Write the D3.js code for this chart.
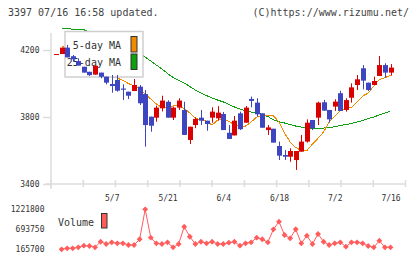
<!DOCTYPE html>
<html>
<head>
<meta charset="utf-8">
<script src="https://cdn.jsdelivr.net/npm/d3@7"></script>
<style>
  body { margin: 0; background: #fff; }
  svg { display: block; }
  text { font-family: "DejaVu Sans Mono", monospace; fill: #333; }
</style>
</head>
<body>
<svg id="chart"></svg>
<script>
// daily prices, index 0 = oldest (4/21) .. 60 = 7/16
const openP  = [4176,4176,4214,4163,4134,4100,4070,4053,4065,4041,3997,4021,3970,3951,3955,3981,3937,3802,3796,3852,
                3891,3796,3856,3842,3663,3752,3796,3778,3796,3792,3818,3706,3690,3822,3766,3908,3886,3822,3722,3730,
                3627,3573,3563,3543,3593,3653,3782,3796,3888,3842,3862,3942,3842,3915,3991,4091,4005,3991,4045,4110,4065];
const highP  = [4176,4214,4230,4170,4150,4100,4070,4106,4065,4041,4051,4051,3995,3951,4027,3991,3961,3802,3868,3927,
                3900,3862,3912,3891,3742,3798,3842,3778,3858,3865,3830,3752,3806,3832,3866,3922,3912,3822,3752,3730,
                3653,3603,3613,3597,3693,3786,3782,3891,3902,3842,3906,3957,3912,4001,4051,4110,4005,4041,4164,4121,4116];
const lowP   = [4176,4176,4156,4130,4107,4065,4045,4053,4031,3995,3945,3951,3901,3907,3955,3872,3623,3712,3772,3833,
                3796,3782,3842,3693,3639,3733,3752,3718,3766,3778,3722,3669,3690,3722,3766,3858,3802,3736,3693,3647,
                3543,3543,3533,3484,3593,3647,3722,3752,3838,3766,3836,3836,3832,3886,3961,3965,3955,3991,4045,4035,4047];
const closeP = [4176,4214,4156,4145,4107,4065,4050,4106,4040,4005,3985,3957,3963,3927,3991,3882,3752,3748,3856,3898,
                3796,3856,3898,3693,3742,3788,3778,3758,3832,3826,3722,3669,3778,3727,3856,3896,3816,3736,3738,3647,
                3569,3563,3597,3597,3653,3766,3733,3886,3838,3786,3892,3836,3901,3977,4025,4017,3961,4015,4110,4065,4095];

// moving averages as drawn
const ma5  = [null,4227,4200,4180,4160,4137,4105,4095,4074,4053,4040,4033,4018,4000,3985,3967,3937,3907,3878,3857,
              3854,3866,3866,3851,3824,3794,3782,3776,3752,3782,3790,3775,3752,3742,3746,3770,3800,3808,3809,3808,
              3770,3704,3651,3618,3599,3599,3639,3673,3711,3770,3803,3836,3851,3857,3890,3925,3943,3985,4024,4035,4048];
const ma25 = [null,4328,4326,4325,4323,4321,4305,4295,4285,4272,4260,4245,4232,4218,4205,4180,4158,4134,4110,4087,
              4060,4036,4018,4003,3982,3961,3943,3928,3913,3901,3890,3875,3860,3848,3836,3830,3827,3815,3803,3783,
              3772,3764,3755,3746,3740,3734,3732,3732,3734,3737,3742,3749,3755,3761,3770,3778,3791,3800,3812,3824,3836];

const volume = [null,165700,192000,192000,218000,261000,253000,218000,366000,306000,350000,324000,324000,279000,279000,430000,
                1221800,472000,324000,306000,350000,218000,306000,762000,498000,306000,366000,324000,366000,306000,306000,
                340000,366000,261000,324000,350000,472000,430000,350000,693750,895000,543000,456000,694000,324000,525000,
                306000,570000,366000,279000,324000,350000,235000,350000,350000,324000,253000,218000,393000,218000,218000];

const tickIdx    = [10, 20, 30, 40, 50, 60];
const tickLabels = ['5/7', '5/21', '6/4', '6/18', '7/2', '7/16'];
const priceTicks = [3400, 3800, 4200];
const volTicks   = [165700, 693750, 1221800];

const W = 420, H = 259;
const axisColor = '#dcdcdc';
const upColor = '#d90000', downColor = '#3d46c0';
const ma5Color = '#f28a00', ma25Color = '#0fa00f', volColor = '#ff5c5c';

const svg = d3.select('#chart').attr('width', W).attr('height', H);

const x = d3.scaleLinear().domain([0, 60]).range([56, 390.5]);
const y = d3.scaleLinear().domain([3400, 4200]).range([184, 50]);
const yv = d3.scaleLinear().domain([165700, 1221800]).range([249.3, 209.3]);
const plotLeft = 51, plotRight = 405.5, plotBottom = 184;

// header
svg.append('text').attr('x', 8).attr('y', 16).style('font-size', '10px').style('fill', '#444')
  .text('3397 07/16 16:58 updated.');
svg.append('text').attr('x', 409).attr('y', 16).attr('text-anchor', 'end').style('font-size', '10px').style('fill', '#444')
  .text('(C)https://www.rizumu.net/');

// frame lines
svg.append('line').attr('x1', plotLeft).attr('x2', plotLeft).attr('y1', 33).attr('y2', 189)
  .attr('stroke', axisColor).attr('stroke-width', 1.5);
svg.append('line').attr('x1', 45.5).attr('x2', plotRight).attr('y1', plotBottom).attr('y2', plotBottom)
  .attr('stroke', axisColor).attr('stroke-width', 1.5);

// evenly spaced division marks on the date axis
const div = d3.scaleLinear().domain([0, 11]).range([plotLeft, plotRight]);
svg.append('g').selectAll('line').data(d3.range(12)).join('line')
  .attr('x1', d => div(d)).attr('x2', d => div(d))
  .attr('y1', 180).attr('y2', 187)
  .attr('stroke', axisColor).attr('stroke-width', 1.5);

// price axis
const yAxisG = svg.append('g').attr('transform', `translate(${plotLeft},0)`)
  .call(d3.axisLeft(y).tickValues(priceTicks).tickFormat(d3.format('d')).tickSize(8).tickPadding(3.5));
yAxisG.select('.domain').remove();
yAxisG.selectAll('line').attr('stroke', axisColor).attr('stroke-width', 1.5);
yAxisG.selectAll('text').style('font-size', '8px').style('font-family', '"DejaVu Sans Mono", monospace').attr('fill', '#333');

// date labels
const xAxisG = svg.append('g').attr('transform', `translate(0,${plotBottom})`)
  .call(d3.axisBottom(x).tickValues(tickIdx).tickFormat((d, i) => tickLabels[i]).tickSize(0).tickPadding(11));
xAxisG.select('.domain').remove();
xAxisG.selectAll('text').style('font-size', '8px').style('font-family', '"DejaVu Sans Mono", monospace').attr('fill', '#333');

// moving averages
const idx = d3.range(openP.length);
const maLine = arr => d3.line().defined(i => arr[i] != null).x(i => x(i)).y(i => y(arr[i]))(idx);
svg.append('path').attr('d', maLine(ma25)).attr('fill', 'none').attr('stroke', ma25Color)
  .attr('stroke-width', 1).attr('shape-rendering', 'crispEdges');
svg.append('path').attr('d', maLine(ma5)).attr('fill', 'none').attr('stroke', ma5Color)
  .attr('stroke-width', 1).attr('shape-rendering', 'crispEdges');

// legend box
const lg = svg.append('g');
lg.append('rect').attr('x', 65).attr('y', 31.5).attr('width', 78).attr('height', 45.5)
  .attr('fill', '#fff').attr('stroke', '#cfcfcf').attr('stroke-width', 1.5);
lg.append('text').attr('x', 121).attr('y', 49).attr('text-anchor', 'end').style('font-size', '10px').text('5-day MA');
lg.append('text').attr('x', 121).attr('y', 66).attr('text-anchor', 'end').style('font-size', '10px').text('25-day MA');
lg.append('rect').attr('x', 131).attr('y', 36.5).attr('width', 6).attr('height', 15.5)
  .attr('fill', ma5Color).attr('stroke', '#333').attr('stroke-width', 1);
lg.append('rect').attr('x', 131).attr('y', 54).attr('width', 6).attr('height', 15.5)
  .attr('fill', ma25Color).attr('stroke', '#333').attr('stroke-width', 1);

// candles
const candles = svg.append('g').selectAll('g').data(idx).join('g')
  .attr('fill', i => closeP[i] >= openP[i] ? upColor : downColor)
  .attr('stroke', i => closeP[i] >= openP[i] ? upColor : downColor);
candles.append('line')
  .attr('x1', i => Math.round(x(i)) + 0.5).attr('x2', i => Math.round(x(i)) + 0.5)
  .attr('y1', i => y(highP[i])).attr('y2', i => y(lowP[i]))
  .attr('stroke-width', 1);
candles.append('rect')
  .attr('x', i => Math.round(x(i)) - 2)
  .attr('width', 5)
  .attr('y', i => y(Math.max(openP[i], closeP[i])))
  .attr('height', i => Math.max(1, Math.abs(y(openP[i]) - y(closeP[i]))))
  .attr('stroke', 'none');

// volume
const vIdx = idx.filter(i => volume[i] != null);
svg.append('path')
  .attr('d', d3.line().x(i => x(i)).y(i => yv(volume[i]))(vIdx))
  .attr('fill', 'none').attr('stroke', volColor).attr('stroke-width', 1);
svg.append('g').selectAll('path').data(vIdx).join('path')
  .attr('d', d3.symbol(d3.symbolSquare, 17))
  .attr('transform', i => `translate(${x(i)},${yv(volume[i])}) rotate(45)`)
  .attr('fill', volColor);

svg.append('g').selectAll('text').data(volTicks).join('text')
  .attr('x', 44.5).attr('y', d => yv(d)).attr('dy', '0.35em')
  .attr('text-anchor', 'end').style('font-size', '8px')
  .text(d => d);

svg.append('text').attr('x', 58).attr('y', 225.5).style('font-size', '10px').text('Volume');
svg.append('rect').attr('x', 101.5).attr('y', 213.5).attr('width', 5.5).attr('height', 14.5)
  .attr('fill', volColor).attr('stroke', '#333').attr('stroke-width', 1);
</script>
</body>
</html>
